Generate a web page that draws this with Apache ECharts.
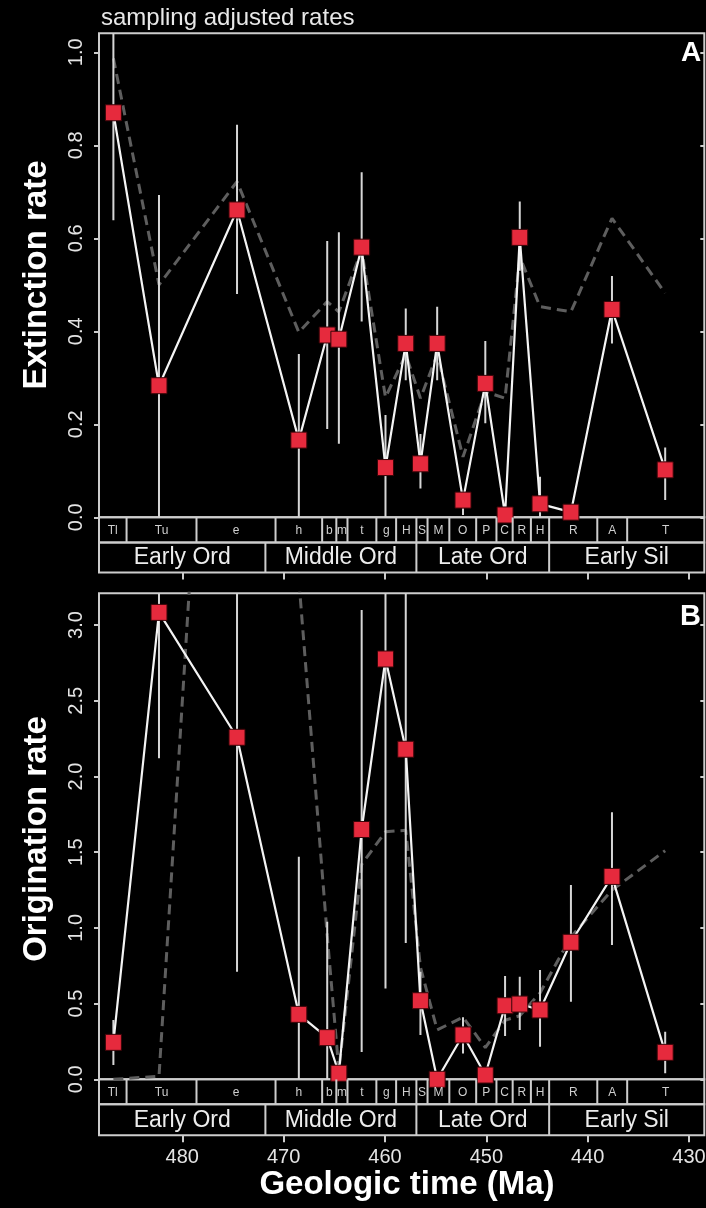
<!DOCTYPE html>
<html>
<head>
<meta charset="utf-8">
<script src="https://cdn.jsdelivr.net/npm/echarts@6/dist/echarts.min.js"></script>
<style>
  html, body { margin: 0; padding: 0; background: #000; }
  #chart { width: 706px; height: 1208px; }
</style>
</head>
<body>
<div id="chart"></div>
<script>
// Ages (Ma) at which each stage's rate is plotted
const stageAges = [486.8, 482.3, 474.6, 468.5, 465.7, 464.55, 462.3, 459.95, 457.95, 456.5,
                   454.85, 452.3, 450.1, 448.15, 446.7, 444.7, 441.65, 437.6, 432.35];

// Extinction: sampling adjusted rate, its interval, and the raw rate
const extinctionRate = [0.870, 0.283, 0.661, 0.166, 0.392, 0.383, 0.581, 0.107, 0.374, 0.115,
                        0.374, 0.037, 0.288, 0.005, 0.602, 0.029, 0.011, 0.447, 0.102];
const extinctionLow  = [0.639, 0.000, 0.480, 0.000, 0.190, 0.158, 0.421, 0.000, 0.295, 0.062,
                        0.295, 0.005, 0.202, 0.000, 0.530, 0.000, 0.000, 0.374, 0.037];
const extinctionHigh = [1.100, 0.693, 0.844, 0.351, 0.594, 0.613, 0.742, 0.220, 0.449, 0.179,
                        0.453, 0.050, 0.379, 0.015, 0.679, 0.087, 0.020, 0.519, 0.150];
const extinctionRaw  = [0.987, 0.500, 0.722, 0.398, 0.464, 0.442, 0.575, 0.258, 0.350, 0.256,
                        0.350, 0.130, 0.270, 0.256, 0.560, 0.453, 0.442, 0.643, 0.482];

// Origination: sampling adjusted rate, its interval, and the raw rate
const originationRate = [0.244, 3.084, 2.259, 0.429, 0.275, 0.040, 1.650, 2.776, 2.180, 0.519,
                         0.000, 0.293, 0.028, 0.486, 0.497, 0.458, 0.905, 1.340, 0.178];
const originationLow  = [0.094, 2.120, 0.711, 0.000, 0.000, 0.000, 0.180, 0.600, 0.900, 0.293,
                         0.000, 0.170, 0.000, 0.286, 0.326, 0.215, 0.513, 0.887, 0.040];
const originationHigh = [0.392, 3.500, 3.500, 1.470, 1.041, 0.100, 3.100, 3.500, 3.500, 0.711,
                         0.000, 0.410, 0.050, 0.682, 0.678, 0.722, 1.283, 1.764, 0.314];
const originationRaw  = [0.000, 0.020, 8.300, 3.300, 0.950, 0.060, 1.420, 1.635, 1.645, 0.740,
                         0.326, 0.410, 0.210, 0.390, 0.420, 0.570, 0.940, 1.250, 1.510];

// Time scale strip
const stageNames  = ['Tl', 'Tu', 'e', 'h', 'b', 'm', 't', 'g', 'H', 'S',
                     'M', 'O', 'P', 'C', 'R', 'H', 'R', 'A', 'T'];
const stageBounds = [488.22, 485.5, 478.6, 470.8, 466.2, 464.8, 463.7, 460.85, 458.9, 456.9,
                     455.8, 453.65, 451.0, 449.0, 447.4, 445.6, 443.8, 439.05, 436.1, 428.49];
const epochNames  = ['Early Ord', 'Middle Ord', 'Late Ord', 'Early Sil'];
const epochBounds = [488.22, 471.8, 456.9, 443.8, 428.49];

// Tick labels
const timeTicks = [480, 470, 460, 450, 440, 430];
const extinctionTicks = [0, 0.2, 0.4, 0.6, 0.8, 1.0];
const originationTicks = [0, 0.5, 1.0, 1.5, 2.0, 2.5, 3.0];

const FONT = '"Liberation Sans", Arial, Helvetica, sans-serif';
const BOX = '#cdcdcd';
const TIME_MIN = 428.49, TIME_MAX = 488.22;

const chart = echarts.init(document.getElementById('chart'), null, { renderer: 'canvas' });

function boxGrid(top, height) {
  return { left: 99, top: top, width: 605.3, height: height, show: true,
           borderColor: BOX, borderWidth: 2, backgroundColor: 'transparent',
           containLabel: false, outerBoundsMode: 'none' };
}

function timeAxis(gridIndex, ticks, labels) {
  return {
    type: 'value', gridIndex: gridIndex, min: TIME_MIN, max: TIME_MAX, inverse: true,
    axisLine: { show: false }, splitLine: { show: false },
    axisTick: { show: ticks, customValues: timeTicks, length: 7, lineStyle: { color: BOX, width: 2 } },
    axisLabel: { show: labels, customValues: timeTicks, margin: 12, color: '#e4e4e4',
                 fontSize: 20, fontFamily: FONT }
  };
}

function rateAxis(gridIndex, max, ticks, side) {
  const left = side === 'left';
  return {
    type: 'value', gridIndex: gridIndex, min: 0, max: max, position: side,
    axisLine: { show: false }, splitLine: { show: false },
    axisTick: { show: true, inside: !left, customValues: ticks, length: left ? 5 : 4,
                lineStyle: { color: BOX, width: 2 } },
    axisLabel: { show: left, customValues: ticks, rotate: 90, margin: 13, color: '#e4e4e4',
                 fontSize: 20, fontFamily: FONT, formatter: v => v.toFixed(1) }
  };
}

function stripAxis(gridIndex) {
  return { type: 'value', gridIndex: gridIndex, min: 0, max: 1, show: false };
}

// Boxes of the time-scale strip, one per stage or epoch
function stripSeries(xi, yi, names, bounds, fontSize, color) {
  return {
    type: 'custom', xAxisIndex: xi, yAxisIndex: yi, clip: true, silent: true, z: 5,
    data: names.map((n, i) => [bounds[i], bounds[i + 1]]),
    renderItem: function (params, api) {
      const p0 = api.coord([api.value(0), 1]);
      const p1 = api.coord([api.value(1), 0]);
      const left = Math.min(p0[0], p1[0]), right = Math.max(p0[0], p1[0]);
      return {
        type: 'group',
        children: [
          { type: 'line', shape: { x1: left, y1: p0[1], x2: left, y2: p1[1] },
            style: { stroke: BOX, lineWidth: 2 } },
          { type: 'text', x: (left + right) / 2, y: (p0[1] + p1[1]) / 2 + 0.5,
            style: { text: names[params.dataIndex], fill: color, fontSize: fontSize,
                     fontFamily: FONT, align: 'center', verticalAlign: 'middle' } }
        ]
      };
    }
  };
}

// Vertical interval bars
function errorBarSeries(xi, yi, low, high) {
  return {
    type: 'custom', xAxisIndex: xi, yAxisIndex: yi, clip: true, silent: true, z: 2,
    data: stageAges.map((t, i) => [t, low[i], high[i]]),
    renderItem: function (params, api) {
      const a = api.coord([api.value(0), api.value(1)]);
      const b = api.coord([api.value(0), api.value(2)]);
      return { type: 'line', shape: { x1: a[0], y1: a[1], x2: b[0], y2: b[1] },
               style: { stroke: '#d6d6d6', lineWidth: 2 } };
    }
  };
}

function rawSeries(xi, yi, values) {
  return {
    type: 'line', xAxisIndex: xi, yAxisIndex: yi, clip: true, silent: true, z: 1,
    symbol: 'none', data: stageAges.map((t, i) => [t, values[i]]),
    lineStyle: { color: '#5e5e5e', width: 3, type: [10, 6] }
  };
}

function rateSeries(xi, yi, values) {
  return {
    type: 'line', xAxisIndex: xi, yAxisIndex: yi, clip: false, silent: true, z: 3,
    symbol: 'rect', symbolSize: 16, showAllSymbol: true,
    data: stageAges.map((t, i) => [t, values[i]]),
    lineStyle: { color: '#f4f4f4', width: 2.2 },
    itemStyle: { color: '#e62a3d', borderColor: '#3a0508', borderWidth: 1 }
  };
}

const option = {
  backgroundColor: '#000',
  animation: false,
  grid: [
    boxGrid(33.3, 484),    // A: extinction
    boxGrid(517.3, 25.2),  // A: stages
    boxGrid(542.5, 30),    // A: epochs
    boxGrid(593.3, 486),   // B: origination
    boxGrid(1079.3, 25),   // B: stages
    boxGrid(1104.3, 31)    // B: epochs
  ],
  xAxis: [
    timeAxis(0, false, false),
    timeAxis(1, false, false),
    timeAxis(2, true, false),
    timeAxis(3, false, false),
    timeAxis(4, false, false),
    timeAxis(5, true, true)
  ],
  yAxis: [
    rateAxis(0, 1.0409, extinctionTicks, 'left'),
    rateAxis(0, 1.0409, extinctionTicks, 'right'),
    stripAxis(1),
    stripAxis(2),
    rateAxis(3, 3.210, originationTicks, 'left'),
    rateAxis(3, 3.210, originationTicks, 'right'),
    stripAxis(4),
    stripAxis(5)
  ],
  series: [
    rawSeries(0, 0, extinctionRaw),
    errorBarSeries(0, 0, extinctionLow, extinctionHigh),
    rateSeries(0, 0, extinctionRate),
    stripSeries(1, 2, stageNames, stageBounds, 12, '#cfcfcf'),
    stripSeries(2, 3, epochNames, epochBounds, 23, '#ececec'),

    rawSeries(3, 4, originationRaw),
    errorBarSeries(3, 4, originationLow, originationHigh),
    rateSeries(3, 4, originationRate),
    stripSeries(4, 6, stageNames, stageBounds, 12, '#cfcfcf'),
    stripSeries(5, 7, epochNames, epochBounds, 23, '#ececec')
  ],
  graphic: [
    { type: 'text', x: 101, y: 18.4,
      style: { text: 'sampling adjusted rates', fill: '#e8e8e8', fontSize: 24, fontFamily: FONT,
               align: 'left', verticalAlign: 'middle' } },
    { type: 'text', x: 691, y: 53.5,
      style: { text: 'A', fill: '#ffffff', fontSize: 28, fontWeight: 'bold', fontFamily: FONT,
               align: 'center', verticalAlign: 'middle' } },
    { type: 'text', x: 690.5, y: 617,
      style: { text: 'B', fill: '#ffffff', fontSize: 29, fontWeight: 'bold', fontFamily: FONT,
               align: 'center', verticalAlign: 'middle' } },
    { type: 'text', x: 36.5, y: 275, rotation: Math.PI / 2,
      style: { text: 'Extinction rate', fill: '#ffffff', fontSize: 33, fontWeight: 'bold',
               fontFamily: FONT, align: 'center', verticalAlign: 'middle' } },
    { type: 'text', x: 36.5, y: 839, rotation: Math.PI / 2,
      style: { text: 'Origination rate', fill: '#ffffff', fontSize: 33, fontWeight: 'bold',
               fontFamily: FONT, align: 'center', verticalAlign: 'middle' } },
    { type: 'text', x: 407, y: 1185,
      style: { text: 'Geologic time (Ma)', fill: '#ffffff', fontSize: 33, fontWeight: 'bold',
               fontFamily: FONT, align: 'center', verticalAlign: 'middle' } }
  ]
};

chart.setOption(option);
</script>
</body>
</html>
